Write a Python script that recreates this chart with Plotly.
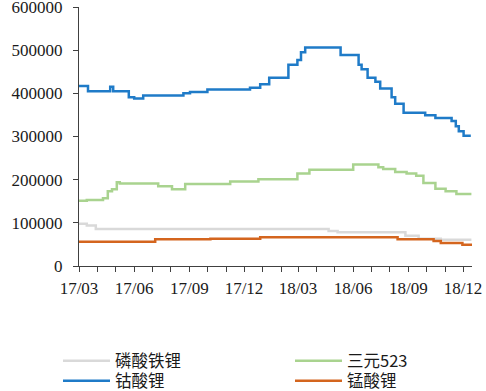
import plotly.graph_objects as go

# 钴酸锂
lco_dates = ["2017-03-01", "2017-03-16", "2017-04-22", "2017-04-27", "2017-05-23", "2017-06-01",
             "2017-06-16", "2017-08-22", "2017-09-02", "2017-10-01", "2017-12-11", "2017-12-28",
             "2018-01-12", "2018-02-13", "2018-02-28", "2018-03-06", "2018-03-13", "2018-05-11",
             "2018-06-10", "2018-06-15", "2018-06-25", "2018-07-08", "2018-07-16", "2018-08-04",
             "2018-08-10", "2018-08-24", "2018-09-29", "2018-10-16", "2018-11-12", "2018-11-19",
             "2018-11-24", "2018-12-02", "2018-12-14"]
lco_vals = [417000, 405000, 415000, 405000, 391000, 388000,
            395000, 400000, 403000, 409000, 413000, 421000,
            436000, 466000, 477000, 495000, 506000, 489000,
            466000, 456000, 436000, 427000, 411000, 391000,
            376000, 355000, 349000, 343000, 336000, 324000,
            312000, 302000, 302000]

# 三元523
ncm_dates = ["2017-03-01", "2017-03-14", "2017-04-10", "2017-04-18", "2017-04-25", "2017-05-03",
             "2017-05-08", "2017-07-11", "2017-08-03", "2017-08-25", "2017-11-08", "2017-12-25",
             "2018-02-28", "2018-03-20", "2018-06-01", "2018-07-13", "2018-07-21", "2018-08-10",
             "2018-08-29", "2018-09-14", "2018-09-26", "2018-10-16", "2018-11-02", "2018-11-20",
             "2018-12-15"]
ncm_vals = [151000, 153000, 157000, 173000, 178000, 194000,
            191000, 185000, 178000, 190000, 196000, 201000,
            214000, 223000, 235000, 229000, 225000, 218000,
            214000, 209000, 192000, 179000, 173000, 167000,
            167000]

# 磷酸铁锂
lfp_dates = ["2017-03-01", "2017-03-14", "2017-03-29", "2018-04-21", "2018-05-06",
             "2018-08-27", "2018-09-18", "2018-10-25", "2018-12-15"]
lfp_vals = [98000, 94000, 86000, 81000, 78000, 70000, 63000, 61000, 61000]

# 锰酸锂
lmo_dates = ["2017-03-01", "2017-07-06", "2017-10-06", "2017-12-28", "2018-08-14",
             "2018-10-13", "2018-10-25", "2018-11-30", "2018-12-16"]
lmo_vals = [56000, 62000, 63000, 66500, 62000, 58000, 53000, 49000, 49000]

names = ["磷酸铁锂", "三元523", "钴酸锂", "锰酸锂"]
colors = ["#d9d9d9", "#a9d38f", "#1f7bc8", "#d4651e"]

fig = go.Figure()
series = [(lfp_dates, lfp_vals, "legend2"),
          (ncm_dates, ncm_vals, "legend3"),
          (lco_dates, lco_vals, "legend4"),
          (lmo_dates, lmo_vals, "legend5")]
for (d, v, lg), n, c in zip(series, names, colors):
    fig.add_trace(go.Scatter(x=d, y=v, name=n, mode="lines",
                             line=dict(color=c, width=2.5, shape="hv"), legend=lg))

tickfont = dict(family="Liberation Serif", size=17, color="#1a1a1a")
legfont = dict(family="Noto Sans CJK SC", size=16.5, color="#1a1a1a")


def leg(xpx, ypx):
    return dict(xref="container", yref="container", x=xpx / 486, y=1 - ypx / 391,
                xanchor="left", yanchor="middle", orientation="v",
                font=legfont, bgcolor="rgba(0,0,0,0)", itemwidth=47,
                tracegroupgap=0, borderwidth=0)


fig.update_layout(
    width=486, height=391,
    margin=dict(l=79, r=14, t=7, b=125, autoexpand=False),
    paper_bgcolor="white", plot_bgcolor="white",
    xaxis=dict(type="date", range=["2017-03-01", "2018-12-16"],
               tick0="2017-03-01", dtick="M3", tickformat="%y/%m",
               ticks="outside", ticklen=5, tickcolor="#404040",
               showline=True, linecolor="#404040", linewidth=1,
               showgrid=False, zeroline=False, tickfont=tickfont,
               tickangle=0, automargin=False, ticklabeloverflow="allow",
               ticklabelstandoff=2,
               minor=dict(dtick="M1", tick0="2017-03-01", ticks="outside", ticklen=5,
                          tickcolor="#404040", showgrid=False)),
    yaxis=dict(range=[0, 600000], dtick=100000, tickformat="d",
               ticks="outside", ticklen=5, tickcolor="#404040",
               showline=True, linecolor="#404040", linewidth=1,
               showgrid=False, zeroline=False, tickfont=tickfont,
               ticklabelstandoff=7, automargin=False, ticklabeloverflow="allow"),
    legend2=leg(58, 361),
    legend3=leg(290, 361),
    legend4=leg(58, 381),
    legend5=leg(290, 381),
)

fig.write_html("out.html", config={"displayModeBar": False},
               post_script="document.body.style.margin='0';")
